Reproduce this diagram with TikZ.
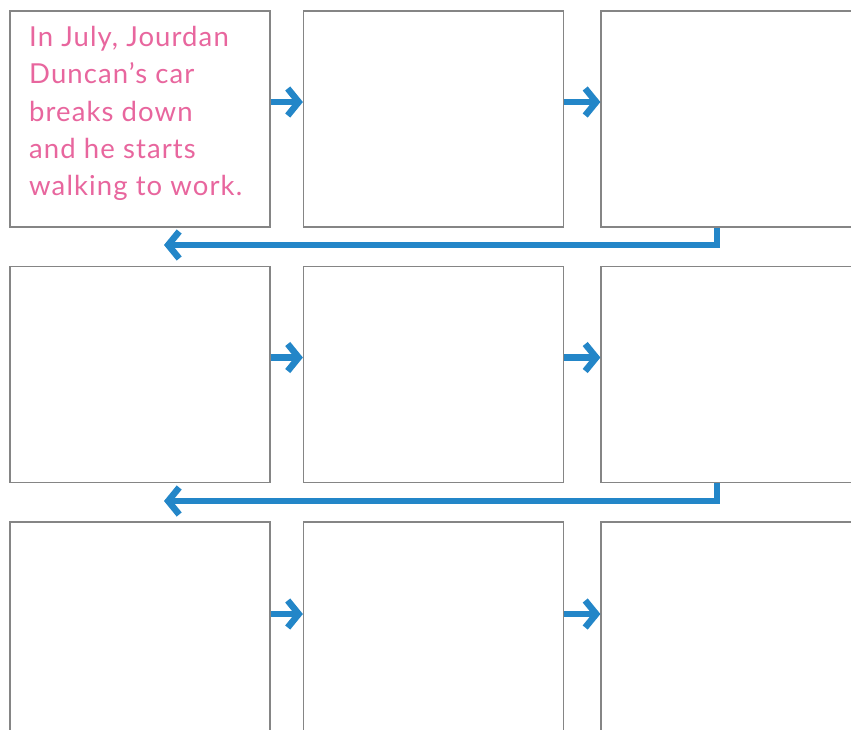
\documentclass[tikz,border=0pt]{standalone}
\usepackage{fontspec}
\setmainfont{Lato}[LetterSpace=4]
\usetikzlibrary{arrows.meta,positioning}
\definecolor{SeqBlue}{HTML}{2386C8}
\definecolor{SeqPink}{HTML}{E8669E}
\definecolor{SeqFrame}{HTML}{858585}

\begin{document}
\begin{tikzpicture}[x=1pt,y=-1pt,
      >={Straight Barb[length=11pt,width=27pt]},
      flow/.style={->,line width=6.5pt,draw=SeqBlue},
      panel/.style={draw=SeqFrame,line width=1.2pt,minimum width=260pt,
        minimum height=216pt,inner sep=0pt}
    ]
    \useasboundingbox (0,0) rectangle (851,729);
    \clip (0,0) rectangle (851,729);
    \fill[white] (0,0) rectangle (851,729);

    % first row
    \node[panel] (p11) at (140,119) {};
    \node[panel] (p12) at (433.5,119) {};
    \node[panel] (p13) at (731,119) {};
    \node[anchor=north west,inner sep=0pt,align=left,text=SeqPink,
      font=\fontsize{27.5}{37.3}\selectfont] (story)
      at (29,26) {In July, Jourdan\\Duncan's car\\breaks down\\and he starts\\walking to work.};
    \draw[flow] ([yshift=17pt]p11.east) -- ([yshift=17pt]p12.west);
    \draw[flow] ([yshift=17pt]p12.east) -- ([yshift=17pt]p13.west);

    % second row
    \node[panel] (p21) at (140,374.5) {};
    \node[panel] (p22) at (433.5,374.5) {};
    \node[panel] (p23) at (731,374.5) {};
    \draw[flow] ([yshift=17pt]p21.east) -- ([yshift=17pt]p22.west);
    \draw[flow] ([yshift=17pt]p22.east) -- ([yshift=17pt]p23.west);

    % third row
    \node[panel] (p31) at (140,630) {};
    \node[panel] (p32) at (433.5,630) {};
    \node[panel] (p33) at (731,630) {};
    \draw[flow] ([yshift=16pt]p31.east) -- ([yshift=16pt]p32.west);
    \draw[flow] ([yshift=16pt]p32.east) -- ([yshift=16pt]p33.west);

    % back to the next row
    \coordinate (back1) at (164,245);
    \coordinate (back2) at (164,501);
    \draw[flow,line cap=butt] ([xshift=-14pt]p13.south) |- (back1);
    \draw[flow,line cap=butt] ([xshift=-14pt]p23.south) |- (back2);
  \end{tikzpicture}
\end{document}
